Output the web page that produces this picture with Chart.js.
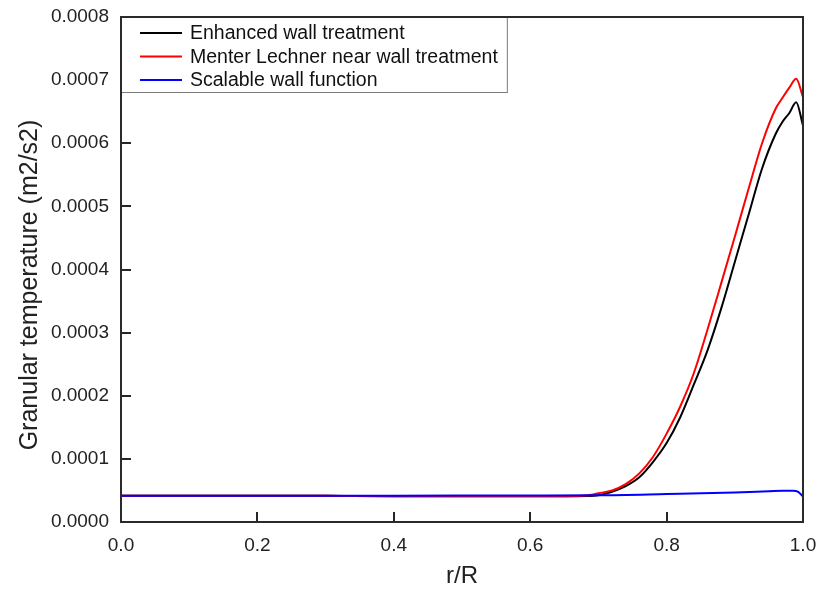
<!DOCTYPE html>
<html>
<head>
<meta charset="utf-8">
<script src="https://cdn.jsdelivr.net/npm/chart.js@4/dist/chart.umd.min.js"></script>
<style>
html,body{margin:0;padding:0;background:#fff;}
#wrap{width:821px;height:593px;position:relative;}
</style>
</head>
<body>
<div id="wrap"><canvas id="c" width="821" height="593"></canvas></div>
<script>
// ---- data ----
const seriesLabels = ["Enhanced wall treatment", "Menter Lechner near wall treatment", "Scalable wall function"];
const yAxisTitle = "Granular temperature (m2/s2)";
const xAxisTitle = "r/R";

const enhancedX = [0, 0.1, 0.2, 0.3, 0.34, 0.4, 0.5, 0.55, 0.6, 0.65, 0.68, 0.70, 0.72, 0.74, 0.76, 0.78, 0.80, 0.82, 0.84, 0.86, 0.88, 0.90, 0.92, 0.94, 0.96, 0.97, 0.98, 0.99, 1.0];
const enhancedY = [0.0000415, 0.0000415, 0.0000415, 0.0000415, 0.0000412, 0.0000409, 0.0000407, 0.0000406, 0.0000406, 0.0000407, 0.0000412, 0.0000425, 0.000048, 0.000057, 0.000071, 0.000095, 0.000125, 0.000166, 0.000218, 0.000272, 0.000338, 0.000412, 0.000486, 0.000560, 0.000615, 0.000634, 0.000648, 0.000665, 0.000628];

const menterX = [0, 0.1, 0.2, 0.3, 0.34, 0.4, 0.5, 0.55, 0.6, 0.65, 0.68, 0.70, 0.72, 0.74, 0.76, 0.78, 0.80, 0.82, 0.84, 0.86, 0.88, 0.90, 0.92, 0.94, 0.96, 0.97, 0.98, 0.99, 1.0];
const menterY = [0.0000415, 0.0000415, 0.0000415, 0.0000415, 0.0000412, 0.0000409, 0.0000407, 0.0000406, 0.0000406, 0.0000408, 0.0000418, 0.0000455, 0.000050, 0.000060, 0.000077, 0.000103, 0.000140, 0.000183, 0.000236, 0.000305, 0.000378, 0.000452, 0.000527, 0.000600, 0.000655, 0.000672, 0.000688, 0.000702, 0.000673];

const scalableX = [0, 0.2, 0.4, 0.6, 0.7, 0.8, 0.9, 0.95, 0.97, 0.985, 0.993, 1.0];
const scalableY = [0.0000415, 0.0000415, 0.0000416, 0.000042, 0.0000422, 0.0000442, 0.0000467, 0.0000488, 0.0000496, 0.0000496, 0.0000478, 0.0000402];

const xTicks = [0, 0.2, 0.4, 0.6, 0.8, 1.0];
const yTicks = [0, 0.0001, 0.0002, 0.0003, 0.0004, 0.0005, 0.0006, 0.0007, 0.0008];

const colors = ["#000000", "#ff0000", "#0000ff"];

function pts(xs, ys){ return xs.map((x,i)=>({x:x, y:ys[i]})); }

const FONT = "'Liberation Sans', Arial, sans-serif";

const frameAndTicks = {
  id: 'frameAndTicks',
  afterDatasetsDraw(chart){
    const {ctx, chartArea:a, scales} = chart;
    ctx.save();
    ctx.strokeStyle = '#262626';
    ctx.lineWidth = 2;
    // inward ticks
    ctx.beginPath();
    xTicks.forEach(v=>{
      if (v<=0 || v>=1) return;
      const px = Math.round(scales.x.getPixelForValue(v));
      ctx.moveTo(px, a.bottom); ctx.lineTo(px, a.bottom-10);
    });
    yTicks.forEach(v=>{
      if (v<=0 || v>=0.0008) return;
      const py = Math.round(scales.y.getPixelForValue(v));
      ctx.moveTo(a.left, py); ctx.lineTo(a.left+10, py);
    });
    ctx.stroke();
    // frame
    ctx.strokeStyle = '#2a2a2a';
    ctx.lineWidth = 2;
    ctx.strokeRect(a.left, a.top, a.right-a.left, a.bottom-a.top);
    // y axis title
    ctx.save();
    ctx.translate(30, 285);
    ctx.rotate(-Math.PI/2);
    ctx.font = "25px " + FONT;
    ctx.fillStyle = '#222';
    ctx.textAlign = 'center';
    ctx.textBaseline = 'middle';
    ctx.fillText(yAxisTitle, 0, 0);
    ctx.restore();
    // legend box
    ctx.font = "19.5px " + FONT;
    let maxW = 0;
    chart.data.datasets.forEach(d=>{ maxW = Math.max(maxW, ctx.measureText(d.label).width); });
    const bx = a.left, by = a.top;
    const bw = 69 + maxW + 9, bh = 75;
    ctx.fillStyle = '#fff';
    ctx.fillRect(bx, by, bw, bh);
    ctx.strokeStyle = '#7a7a7a';
    ctx.lineWidth = 1;
    ctx.strokeRect(bx+0.5, by+0.5, bw, bh);
    ctx.strokeStyle = '#2a2a2a';
    ctx.lineWidth = 2;
    ctx.beginPath();
    ctx.moveTo(a.left, a.top); ctx.lineTo(a.left, a.top+bh+1);
    ctx.moveTo(a.left, a.top); ctx.lineTo(a.left+bw+1, a.top);
    ctx.stroke();
    ctx.textBaseline = 'middle';
    ctx.textAlign = 'left';
    chart.data.datasets.forEach((d,i)=>{
      const y = by + 16 + i*23.5;
      ctx.strokeStyle = d.borderColor;
      ctx.lineWidth = 2;
      ctx.beginPath();
      ctx.moveTo(bx+19, y); ctx.lineTo(bx+61, y);
      ctx.stroke();
      ctx.fillStyle = '#111';
      ctx.fillText(d.label, bx+69, y+1);
    });
    ctx.restore();
  }
};

new Chart(document.getElementById('c'), {
  type: 'line',
  data: {
    datasets: [
      {label: seriesLabels[0], data: pts(enhancedX, enhancedY), borderColor: colors[0], order: 3},
      {label: seriesLabels[1], data: pts(menterX, menterY), borderColor: colors[1], order: 2},
      {label: seriesLabels[2], data: pts(scalableX, scalableY), borderColor: colors[2], order: 1}
    ]
  },
  options: {
    responsive: false,
    animation: false,
    layout: {padding: {top: 17, right: 18, left: 0, bottom: 0}},
    elements: {
      point: {radius: 0},
      line: {borderWidth: 2, cubicInterpolationMode: 'monotone', fill: false}
    },
    plugins: {legend: {display: false}, tooltip: {enabled: false}},
    scales: {
      x: {
        type: 'linear', min: 0, max: 1,
        grid: {display: false, drawTicks: false},
        border: {display: false},
        afterFit(s){ s.height = 71; s.paddingLeft = 0; s.paddingRight = 0; },
        afterBuildTicks(s){ s.ticks = xTicks.map(v=>({value:v})); },
        ticks: {padding: 12, color: '#222', font: {family: FONT, size: 19}, maxRotation: 0,
                callback: v => Number(v).toFixed(1)},
        title: {display: true, text: xAxisTitle, color: '#222', font: {family: FONT, size: 24}, padding: {top: 0, bottom: 2}}
      },
      y: {
        type: 'linear', min: 0, max: 0.0008,
        grid: {display: false, drawTicks: false},
        border: {display: false},
        afterFit(s){ s.width = 121; s.paddingTop = 0; s.paddingBottom = 0; },
        afterBuildTicks(s){ s.ticks = yTicks.map(v=>({value:v})); },
        ticks: {padding: 12, color: '#222', font: {family: FONT, size: 19},
                callback: v => Number(v).toFixed(4)},
        title: {display: false}
      }
    }
  },
  plugins: [frameAndTicks]
});
</script>
</body>
</html>
